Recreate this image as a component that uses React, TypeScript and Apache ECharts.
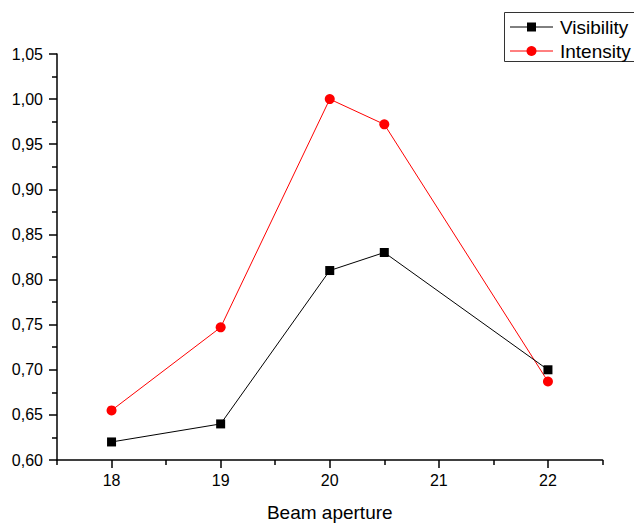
import React, { useEffect, useRef } from "react";
import * as echarts from "echarts";

const xValues = [18, 19, 20, 20.5, 22];
const visibility = [0.62, 0.64, 0.81, 0.83, 0.70];
const intensity = [0.655, 0.747, 1.0, 0.972, 0.687];
const xMajorTicks = [18, 19, 20, 21, 22];
const xMinorTicks = [17.5, 18.5, 19.5, 20.5, 21.5, 22.5];
const seriesNames = ["Visibility", "Intensity"];
const xTitle = "Beam aperture";

const FONT = "'Liberation Sans', Arial, sans-serif";

export default function App() {
  const ref = useRef<HTMLDivElement>(null);
  useEffect(() => {
    if (!ref.current) return;
    const chart = echarts.init(ref.current, undefined, { renderer: "svg" });
    const axisColor = "#000";
    chart.setOption({
      animation: false,
      backgroundColor: "#fff",
      textStyle: { fontFamily: FONT },
      grid: { left: 57, top: 54, right: 31.5, bottom: 65, containLabel: false, outerBoundsMode: "none" },
      xAxis: [
        {
          type: "value",
          min: 17.5,
          max: 22.5,
          interval: 0.5,
          name: xTitle,
          nameLocation: "middle",
          nameGap: 43,
          nameTextStyle: { fontSize: 19, color: "#000", fontFamily: FONT },
          axisLine: { show: true, lineStyle: { color: axisColor, width: 1.5 } },
          axisTick: {
            show: true,
            inside: false,
            length: 8,
            customValues: xMajorTicks,
            lineStyle: { color: axisColor, width: 1.5 },
          },
          axisLabel: {
            show: true,
            customValues: xMajorTicks,
            margin: 12,
            fontSize: 16,
            color: "#000",
            fontFamily: FONT,
          },
          splitLine: { show: false },
        },
        {
          type: "value",
          min: 17.5,
          max: 22.5,
          interval: 0.5,
          position: "bottom",
          axisLine: { show: false },
          axisTick: {
            show: true,
            length: 5,
            customValues: xMinorTicks,
            lineStyle: { color: axisColor, width: 1.5 },
          },
          axisLabel: { show: false },
          splitLine: { show: false },
        },
      ],
      yAxis: {
        type: "value",
        min: 0.6,
        max: 1.05,
        interval: 0.05,
        axisLine: { show: true, lineStyle: { color: axisColor, width: 1.5 } },
        axisTick: { show: true, length: 8, lineStyle: { color: axisColor, width: 1.5 } },
        minorTick: { show: true, splitNumber: 2, length: 5, lineStyle: { color: axisColor, width: 1.5 } },
        axisLabel: {
          margin: 14,
          fontSize: 16,
          color: "#000",
          fontFamily: FONT,
          formatter: (v: number) => v.toFixed(2).replace(".", ","),
        },
        splitLine: { show: false },
      },
      series: [
        {
          name: seriesNames[0],
          type: "line",
          xAxisIndex: 0,
          data: xValues.map((x, i) => [x, visibility[i]]),
          symbol: "rect",
          symbolSize: 9,
          itemStyle: { color: "#000" },
          lineStyle: { color: "#000", width: 1 },
          z: 3,
        },
        {
          name: seriesNames[1],
          type: "line",
          xAxisIndex: 0,
          data: xValues.map((x, i) => [x, intensity[i]]),
          symbol: "circle",
          symbolSize: 10,
          itemStyle: { color: "#ff0000" },
          lineStyle: { color: "#ff0000", width: 1 },
          z: 2,
        },
      ],
      graphic: [
        {
          type: "rect",
          shape: { x: 504.5, y: 12.5, width: 140, height: 49 },
          style: { fill: "#fff", stroke: "#333", lineWidth: 1 },
          z: 10,
        },
        {
          type: "line",
          shape: { x1: 510, y1: 27, x2: 553, y2: 27 },
          style: { stroke: "#000", lineWidth: 1 },
          z: 11,
        },
        {
          type: "rect",
          shape: { x: 527, y: 22.5, width: 9, height: 9 },
          style: { fill: "#000" },
          z: 12,
        },
        {
          type: "text",
          x: 560,
          y: 27,
          style: { text: seriesNames[0], fontSize: 19, fontFamily: FONT, fill: "#000", verticalAlign: "middle" },
          z: 12,
        },
        {
          type: "line",
          shape: { x1: 510, y1: 51, x2: 553, y2: 51 },
          style: { stroke: "#ff0000", lineWidth: 1 },
          z: 11,
        },
        {
          type: "circle",
          shape: { cx: 531.5, cy: 51, r: 5 },
          style: { fill: "#ff0000" },
          z: 12,
        },
        {
          type: "text",
          x: 560,
          y: 51,
          style: { text: seriesNames[1], fontSize: 19, fontFamily: FONT, fill: "#000", verticalAlign: "middle" },
          z: 12,
        },
      ],
    });
    return () => chart.dispose();
  }, []);
  return (
    <div
      ref={ref}
      style={{ position: "fixed", left: 0, top: 0, width: 634, height: 525 }}
    />
  );
}
